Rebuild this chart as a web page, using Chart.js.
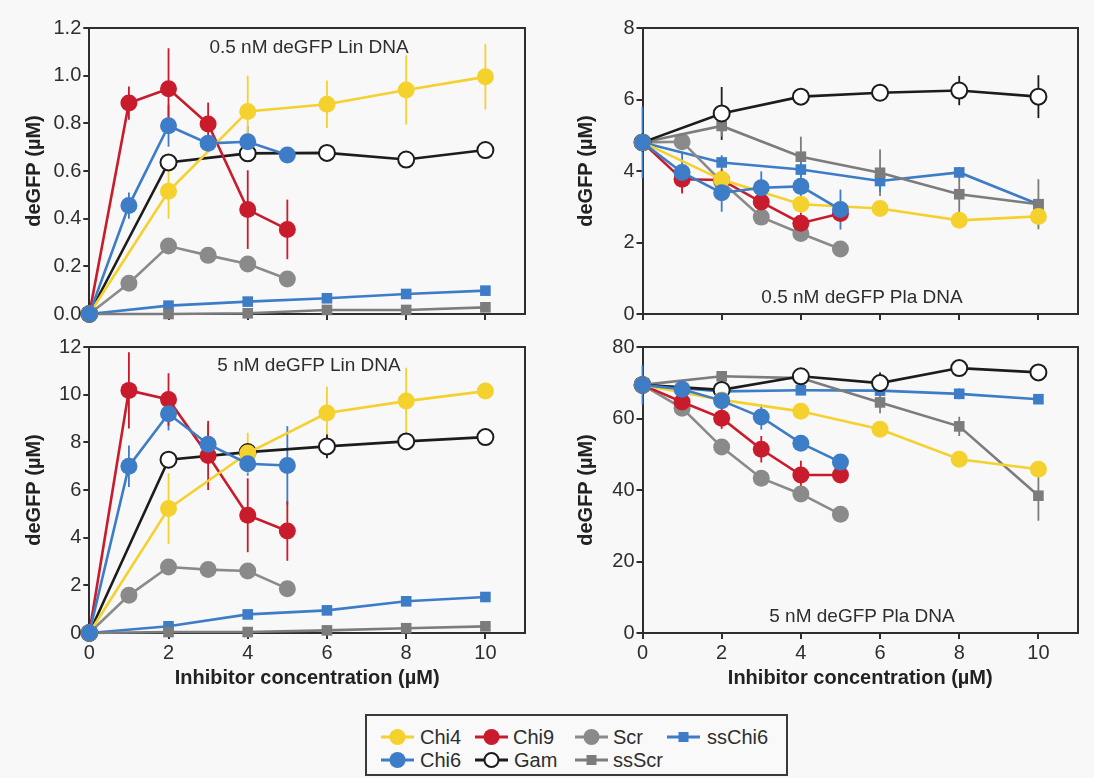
<!DOCTYPE html>
<html>
<head>
<meta charset="utf-8">
<script src="https://cdn.jsdelivr.net/npm/chart.js@4.4.1/dist/chart.umd.min.js"></script>
<style>
  html, body { margin: 0; padding: 0; }
  body { width: 1094px; height: 778px; overflow: hidden; background: #f8f8f8; position: relative;
         font-family: "Liberation Sans", Arial, Helvetica, sans-serif; color: #2a2a2a; }
  canvas { position: absolute; }
  .ann { position: absolute; width: 320px; text-align: center; font-size: 19px; line-height: 22px; color: #2e2e2e; white-space: nowrap; }
  #legend { position: absolute; left: 365px; top: 714px; width: 423px; height: 62px; box-sizing: border-box;
            border: 2px solid #3a3a3a; background: #f9f9f9; }
  .lg { position: absolute; }
  .lt { position: absolute; font-size: 20px; line-height: 24px; color: #2e2e2e; white-space: nowrap; }
</style>
</head>
<body>
<canvas id="tl" width="547" height="330" style="left:0;top:0"></canvas>
<canvas id="tr" width="547" height="330" style="left:547px;top:0"></canvas>
<canvas id="bl" width="547" height="361" style="left:0;top:330px"></canvas>
<canvas id="br" width="547" height="361" style="left:547px;top:330px"></canvas>

<div class="ann" style="left:149px;top:36px">0.5 nM deGFP Lin DNA</div>
<div class="ann" style="left:702px;top:286px">0.5 nM deGFP Pla DNA</div>
<div class="ann" style="left:149px;top:354px">5 nM deGFP Lin DNA</div>
<div class="ann" style="left:702px;top:605px">5 nM deGFP Pla DNA</div>

<div id="legend"></div>
<div id="legendItems"></div>

<script>
// ---------------- DATA ----------------
const X_FULL  = [0, 2, 4, 6, 8, 10];   // Chi4, Gam, ssChi6, ssScr
const X_SHORT = [0, 1, 2, 3, 4, 5];    // Chi9, Chi6, Scr
const X_TICK_LABELS = ['0', '2', '4', '6', '8', '10'];

const Y_TICKS_L05 = ['0.0', '0.2', '0.4', '0.6', '0.8', '1.0', '1.2'];
const Y_TICKS_P05 = ['0', '2', '4', '6', '8'];
const Y_TICKS_L5  = ['0', '2', '4', '6', '8', '10', '12'];
const Y_TICKS_P5  = ['0', '20', '40', '60', '80'];

// 0.5 nM deGFP Lin DNA
const L05_chi4      = [0, 0.515, 0.85, 0.88, 0.94, 0.995];
const L05_chi4_err  = [0, 0.115, 0.15, 0.10, 0.145, 0.137];
const L05_chi9      = [0, 0.885, 0.945, 0.797, 0.438, 0.355];
const L05_chi9_err  = [0, 0.07, 0.17, 0.09, 0.165, 0.125];
const L05_chi6      = [0, 0.455, 0.79, 0.716, 0.723, 0.667];
const L05_chi6_err  = [0, 0.055, 0.088, 0.02, 0.066, 0.02];
const L05_gam       = [0, 0.636, 0.674, 0.676, 0.648, 0.688];
const L05_gam_err   = [0, 0.015, 0.015, 0.015, 0.015, 0.015];
const L05_scr       = [0, 0.129, 0.285, 0.246, 0.21, 0.147];
const L05_ssChi6    = [0, 0.035, 0.052, 0.066, 0.084, 0.098];
const L05_ssScr     = [0, 0.0, 0.003, 0.017, 0.017, 0.028];

// 0.5 nM deGFP Pla DNA
const P05_chi4      = [4.8, 3.76, 3.07, 2.95, 2.62, 2.73];
const P05_chi4_err  = [0, 0.3, 0.2, 0.15, 0.15, 0.3];
const P05_chi9      = [4.8, 3.77, 3.75, 3.13, 2.54, 2.81];
const P05_chi9_err  = [0, 0.4, 0.3, 0.3, 0.3, 0.2];
const P05_chi6      = [4.8, 3.96, 3.39, 3.53, 3.57, 2.92];
const P05_chi6_err  = [1.0, 0.55, 0.53, 0.46, 0.3, 0.56];
const P05_gam       = [4.8, 5.61, 6.08, 6.19, 6.25, 6.08];
const P05_gam_err   = [0, 0.74, 0.1, 0.1, 0.41, 0.6];
const P05_scr       = [4.8, 4.82, 3.7, 2.71, 2.25, 1.82];
const P05_ssChi6    = [4.8, 4.24, 4.04, 3.72, 3.96, 3.07];
const P05_ssChi6_err= [0, 0.2, 0.2, 0.3, 0.15, 0.1];
const P05_ssScr     = [4.8, 5.26, 4.4, 3.95, 3.35, 3.07];
const P05_ssScr_err = [0, 0.3, 0.56, 0.65, 0.5, 0.7];

// 5 nM deGFP Lin DNA
const L5_chi4       = [0, 5.22, 7.55, 9.23, 9.73, 10.15];
const L5_chi4_err   = [0, 1.48, 0.85, 1.1, 1.4, 0.2];
const L5_chi9       = [0, 10.18, 9.8, 7.45, 4.94, 4.28];
const L5_chi9_err   = [0, 1.6, 1.1, 1.45, 1.55, 1.25];
const L5_chi6       = [0, 7.0, 9.2, 7.92, 7.1, 7.03];
const L5_chi6_err   = [0, 0.87, 0.7, 0.84, 0.5, 1.65];
const L5_gam        = [0, 7.27, 7.59, 7.83, 8.04, 8.22];
const L5_gam_err    = [0, 0.1, 0.1, 0.5, 0.1, 0.1];
const L5_scr        = [0, 1.58, 2.77, 2.66, 2.6, 1.86];
const L5_ssChi6     = [0, 0.28, 0.78, 0.95, 1.33, 1.51];
const L5_ssScr      = [0, 0.04, 0.04, 0.11, 0.2, 0.28];

// 5 nM deGFP Pla DNA
const P5_chi4       = [69.4, 65.2, 62.0, 57.0, 48.6, 45.8];
const P5_chi4_err   = [0, 1, 1, 1, 1, 1];
const P5_chi9       = [69.4, 64.6, 60.1, 51.4, 44.2, 44.2];
const P5_chi9_err   = [0, 1.5, 3, 3.7, 4, 1.5];
const P5_chi6       = [69.4, 68.2, 65.0, 60.4, 53.1, 47.8];
const P5_chi6_err   = [5.5, 1.5, 2, 3.5, 1.5, 1.5];
const P5_gam        = [69.4, 68.0, 71.8, 69.9, 74.1, 72.9];
const P5_gam_err    = [0, 1, 1, 3, 1, 1];
const P5_scr        = [69.4, 62.9, 52.0, 43.3, 38.9, 33.2];
const P5_ssChi6     = [69.4, 67.6, 67.9, 67.8, 66.9, 65.4];
const P5_ssChi6_err = [0, 1, 1, 1, 1.5, 1];
const P5_ssScr      = [69.4, 71.8, 71.3, 64.5, 57.8, 38.4];
const P5_ssScr_err  = [0, 1.5, 1, 3, 2.7, 7];

// ---------------- STYLE ----------------
const COL = { yellow: '#f5d12e', red: '#c81b2b', blue: '#3d7cc6', gray: '#8a8a8a', gray2: '#7c7c7c', black: '#1c1c1c' };
const STYLE = {
  Chi6:   { color: COL.blue,   shape: 'circle', r: 8.5 },
  Chi4:   { color: COL.yellow, shape: 'circle', r: 8.5 },
  Chi9:   { color: COL.red,    shape: 'circle', r: 8.5 },
  Gam:    { color: COL.black,  shape: 'circle', r: 8, open: true },
  Scr:    { color: COL.gray,   shape: 'circle', r: 8.5 },
  ssChi6: { color: COL.blue,   shape: 'rect',   r: 7.5 },
  ssScr:  { color: COL.gray2,  shape: 'rect',   r: 7.5 }
};

function series(name, xs, ys, errs) {
  const s = STYLE[name];
  return {
    label: name,
    data: xs.map((x, i) => ({ x: x, y: ys[i] })),
    errors: errs || null,
    borderColor: s.color,
    backgroundColor: s.color,
    borderWidth: 2.6,
    pointStyle: s.shape,
    pointRadius: s.r,
    pointBackgroundColor: s.open ? '#ffffff' : s.color,
    pointBorderColor: s.color,
    pointBorderWidth: s.open ? 2 : 0,
    tension: 0,
    clip: false
  };
}

// error bars drawn through the chart's own scales
const errorBars = {
  id: 'errorBars',
  beforeDatasetsDraw(chart) {
    const { ctx, scales: { x, y } } = chart;
    ctx.save();
    ctx.lineWidth = 1.8;
    chart.data.datasets.forEach(ds => {
      if (!ds.errors) return;
      ctx.strokeStyle = ds.borderColor;
      ds.data.forEach((p, i) => {
        const e = ds.errors[i];
        if (!e) return;
        const px = x.getPixelForValue(p.x);
        ctx.beginPath();
        ctx.moveTo(px, y.getPixelForValue(p.y - e));
        ctx.lineTo(px, y.getPixelForValue(p.y + e));
        ctx.stroke();
      });
    });
    ctx.restore();
  }
};

// top and right frame lines of the plot box
const frame = {
  id: 'frame',
  beforeDatasetsDraw(chart) {
    const { ctx, chartArea: a } = chart;
    ctx.save();
    ctx.strokeStyle = '#2e2e2e';
    ctx.lineWidth = 2;
    ctx.beginPath();
    ctx.moveTo(a.left, a.top);
    ctx.lineTo(a.right, a.top);
    ctx.lineTo(a.right, a.bottom);
    ctx.stroke();
    ctx.restore();
  }
};

Chart.defaults.font.family = '"Liberation Sans", Arial, Helvetica, sans-serif';
Chart.defaults.color = '#2e2e2e';

function panel(id, datasets, o) {
  new Chart(document.getElementById(id), {
    type: 'line',
    data: { datasets: datasets },
    plugins: [errorBars, frame],
    options: {
      responsive: false,
      animation: false,
      devicePixelRatio: 1,
      layout: { padding: { left: 0, top: o.padTop, right: o.padRight, bottom: 0 } },
      plugins: { legend: { display: false }, tooltip: { enabled: false } },
      scales: {
        x: {
          type: 'linear', min: 0, max: 11,
          ticks: { stepSize: 2, includeBounds: false, display: o.showX, padding: 2,
                   font: { size: 20 }, color: '#2e2e2e',
                   callback: (v, i) => X_TICK_LABELS[i] },
          grid: { drawOnChartArea: false, drawTicks: true, tickLength: 6, color: '#2e2e2e', lineWidth: 2 },
          border: { display: true, color: '#2e2e2e', width: 2 },
          title: { display: o.showX, text: 'Inhibitor concentration (µM)', color: '#222',
                   font: { size: 20, weight: 'bold' }, padding: { top: 0, bottom: 1 } },
          afterFit: s => { s.height = o.xHeight; }
        },
        y: {
          type: 'linear', min: o.yMin, max: o.yMax,
          ticks: { stepSize: o.yStep, includeBounds: false, padding: 2,
                   font: { size: 20 }, color: '#2e2e2e',
                   callback: (v, i) => o.yTicks[i] },
          grid: { drawOnChartArea: false, drawTicks: true, tickLength: 6, color: '#2e2e2e', lineWidth: 2 },
          border: { display: true, color: '#2e2e2e', width: 2 },
          title: { display: true, text: 'deGFP (µM)', color: '#222',
                   font: { size: 20, weight: 'bold' }, padding: { top: o.yTitlePad, bottom: 0 } },
          afterFit: s => { s.width = o.yWidth; }
        }
      }
    }
  });
}

function panelSets(chi6, chi6e, chi4, chi4e, chi9, chi9e, gam, game, scr, scre, ssChi6, ssChi6e, ssScr, ssScre) {
  return [
    series('Chi6', X_SHORT, chi6, chi6e),
    series('Chi4', X_FULL, chi4, chi4e),
    series('Chi9', X_SHORT, chi9, chi9e),
    series('Gam', X_FULL, gam, game),
    series('ssScr', X_FULL, ssScr, ssScre),
    series('Scr', X_SHORT, scr, scre),
    series('ssChi6', X_FULL, ssChi6, ssChi6e)
  ];
}

panel('tl', panelSets(L05_chi6, L05_chi6_err, L05_chi4, L05_chi4_err, L05_chi9, L05_chi9_err,
                      L05_gam, L05_gam_err, L05_scr, null, L05_ssChi6, null, L05_ssScr, null),
      { padTop: 28, padRight: 22, yWidth: 89.3, xHeight: 16, showX: false,
        yMin: 0, yMax: 1.2, yStep: 0.2, yTicks: Y_TICKS_L05, yTitlePad: 22 });

panel('tr', panelSets(P05_chi6, P05_chi6_err, P05_chi4, P05_chi4_err, P05_chi9, P05_chi9_err,
                      P05_gam, P05_gam_err, P05_scr, null, P05_ssChi6, P05_ssChi6_err, P05_ssScr, P05_ssScr_err),
      { padTop: 28, padRight: 16, yWidth: 95.5, xHeight: 16, showX: false,
        yMin: 0, yMax: 8, yStep: 2, yTicks: Y_TICKS_P05, yTitlePad: 27.5 });

panel('bl', panelSets(L5_chi6, L5_chi6_err, L5_chi4, L5_chi4_err, L5_chi9, L5_chi9_err,
                      L5_gam, L5_gam_err, L5_scr, null, L5_ssChi6, null, L5_ssScr, null),
      { padTop: 17, padRight: 22, yWidth: 89.3, xHeight: 58, showX: true,
        yMin: 0, yMax: 12, yStep: 2, yTicks: Y_TICKS_L5, yTitlePad: 22 });

panel('br', panelSets(P5_chi6, P5_chi6_err, P5_chi4, P5_chi4_err, P5_chi9, P5_chi9_err,
                      P5_gam, P5_gam_err, P5_scr, null, P5_ssChi6, P5_ssChi6_err, P5_ssScr, P5_ssScr_err),
      { padTop: 17, padRight: 16, yWidth: 95.5, xHeight: 58, showX: true,
        yMin: 0, yMax: 80, yStep: 20, yTicks: Y_TICKS_P5, yTitlePad: 27.5 });

// ---------------- LEGEND (HTML) ----------------
const LEGEND_ITEMS = [
  { name: 'Chi4',   lx: 380, tx: 420, cy: 737 },
  { name: 'Chi9',   lx: 474, tx: 513, cy: 737 },
  { name: 'Scr',    lx: 574, tx: 613, cy: 737 },
  { name: 'ssChi6', lx: 666, tx: 707, cy: 737 },
  { name: 'Chi6',   lx: 380, tx: 420, cy: 760 },
  { name: 'Gam',    lx: 474, tx: 514, cy: 760 },
  { name: 'ssScr',  lx: 574, tx: 613, cy: 760 }
];
const host = document.getElementById('legendItems');
LEGEND_ITEMS.forEach(it => {
  const s = STYLE[it.name];
  const w = 35, h = 20;
  let marker;
  if (s.shape === 'rect') {
    marker = `<rect x="${w/2-5}" y="${h/2-5}" width="10" height="10" fill="${s.color}"/>`;
  } else if (s.open) {
    marker = `<circle cx="${w/2}" cy="${h/2}" r="7" fill="#fff" stroke="${s.color}" stroke-width="2"/>`;
  } else {
    marker = `<circle cx="${w/2}" cy="${h/2}" r="8" fill="${s.color}"/>`;
  }
  const div = document.createElement('div');
  div.className = 'lg';
  div.style.left = it.lx + 'px';
  div.style.top = (it.cy - h / 2) + 'px';
  div.innerHTML = `<svg width="${w}" height="${h}"><line x1="1" y1="${h/2}" x2="${w-1}" y2="${h/2}" stroke="${s.color}" stroke-width="3"/>${marker}</svg>`;
  host.appendChild(div);
  const t = document.createElement('div');
  t.className = 'lt';
  t.style.left = it.tx + 'px';
  t.style.top = (it.cy - 12) + 'px';
  t.textContent = it.name;
  host.appendChild(t);
});
</script>
</body>
</html>
